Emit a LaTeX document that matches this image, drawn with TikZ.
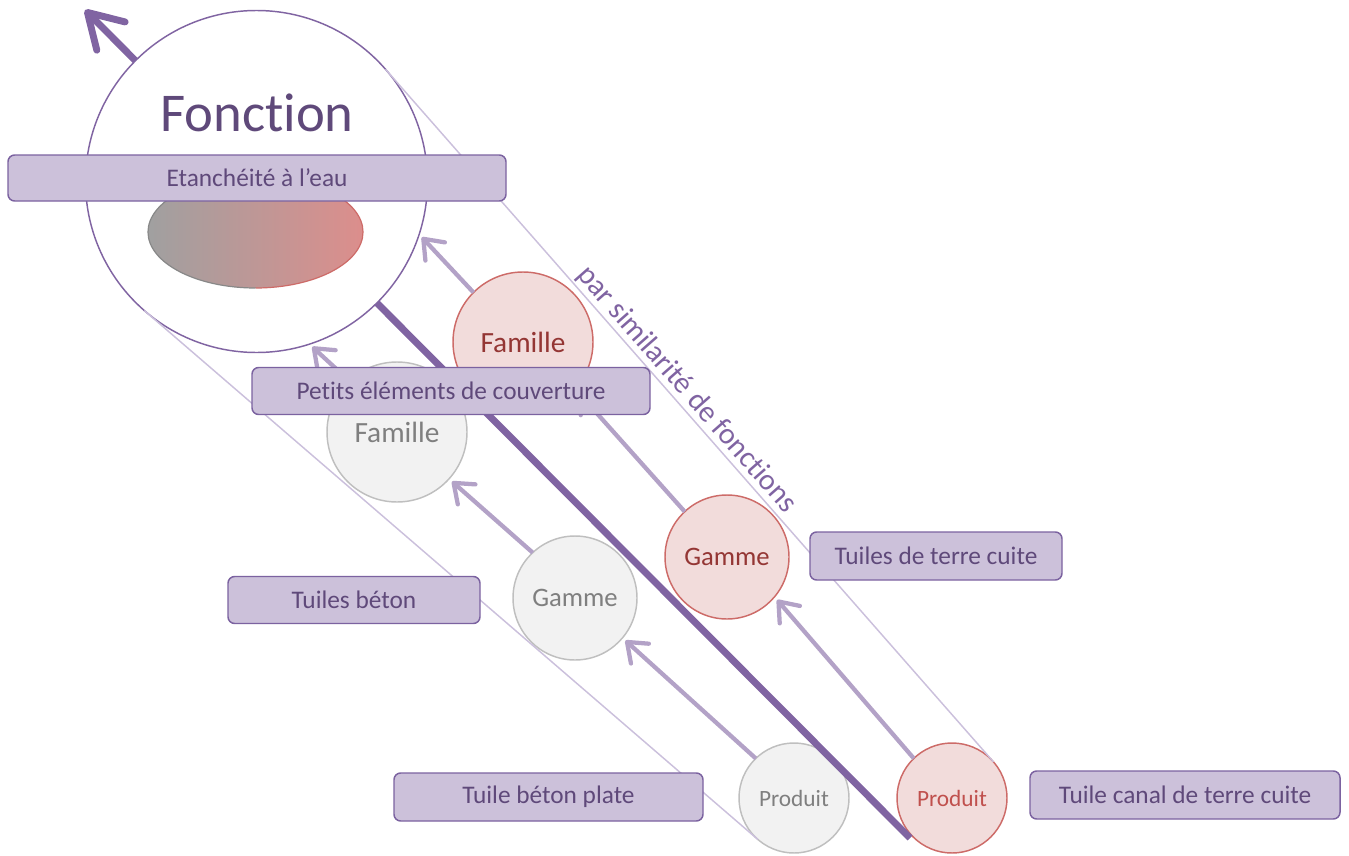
\documentclass[tikz,border=0pt]{standalone}
\usepackage{fontspec}
\setmainfont{Carlito}[Ligatures={NoCommon,NoContextual}]
\usetikzlibrary{arrows.meta}
\definecolor{purpletext}{HTML}{5F497A}
\definecolor{boxfill}{HTML}{CCC1DA}
\definecolor{boxline}{HTML}{7B62A0}
\definecolor{maincol}{HTML}{8064A2}
\definecolor{arrowcol}{HTML}{B3A2C7}
\definecolor{tangcol}{HTML}{CBC0DC}
\definecolor{redfill}{HTML}{F2DCDB}
\definecolor{redline}{HTML}{CD6B68}
\definecolor{redtext}{HTML}{943634}
\definecolor{redtextb}{HTML}{C0504D}
\definecolor{grayfill}{HTML}{F2F2F2}
\definecolor{grayline}{HTML}{BFBFBF}
\definecolor{graytext}{HTML}{7F7F7F}
\definecolor{ellgray}{HTML}{A0A0A0}
\definecolor{ellred}{HTML}{DC8E8C}
\begin{document}
\begin{tikzpicture}[x=0.75pt,y=-0.75pt,
  redc/.style={circle, draw=redline, fill=redfill, line width=1.1pt, inner sep=0pt, outer sep=0pt},
  grayc/.style={circle, draw=grayline, fill=grayfill, line width=1.1pt, inner sep=0pt, outer sep=0pt},
  famsize/.style={minimum size=105pt, font=\fontsize{22}{26}\selectfont},
  gamsize/.style={minimum size=93pt, font=\fontsize{20}{24}\selectfont},
  prodsize/.style={minimum size=82.5pt, font=\fontsize{17.5}{21}\selectfont},
  labelbox/.style={draw=boxline, fill=boxfill, rounded corners=5pt, line width=1.1pt, text=purpletext, font=\fontsize{19}{23}\selectfont, inner sep=0pt},
  link/.style={draw=arrowcol, line width=3.2pt, -{Straight Barb[length=13pt,width=20pt,round]}, shorten >=3pt},
  tangent/.style={draw=tangcol, line width=1.1pt},
  mainarrow/.style={draw=maincol, line width=5.2pt, -{Straight Barb[length=25pt,width=30pt,round]}},
]
\useasboundingbox (0,0) rectangle (1349,856);

% small circles
\node[grayc, famsize, text=graytext] (gF) at (397,432) {Famille};
\node[grayc, gamsize, text=graytext] (gG) at (575,598) {Gamme};
\node[grayc, prodsize, text=graytext] (gP) at (794,798) {Produit};
\node[redc, famsize, text=redtext] (rF) at (523,342) {Famille};
\node[redc, gamsize, text=redtext] (rG) at (727,557) {Gamme};
\node[redc, prodsize, text=redtextb] (rP) at (952,798) {Produit};

% main axis
\coordinate (thickEnd) at (910,838);
\coordinate (thickTip) at (85,10);
\draw[mainarrow] (thickEnd) -- (thickTip);

% big circle
\node[circle, draw=maincol, fill=white, line width=1.1pt, minimum size=256.5pt, inner sep=0pt, outer sep=0pt] (big) at (256.5,181.5) {};

% tangent lines
\draw[tangent] (big.41) -- (rP.41)
  node[pos=0.477, sloped, above, inner sep=1pt, text=maincol, font=\fontsize{22.5}{26}\selectfont] (simil) {par similarité de fonctions};
\draw[tangent] (big.229) -- (gP.229);

% light arrows
\draw[link] (rP.134) -- (rG.-40);
\draw[link] (rG.133) -- (rF.-42);
\draw[link] (rF.135) -- (big.-18);
\draw[link] (gP.134) -- (gG.-40);
\draw[link] (gG.133) -- (gF.-42);
\draw[link] (gF.133) -- (big.-72);

% content of big circle
\node[text=purpletext, font=\fontsize{41}{48}\selectfont, inner sep=0pt] (fonction) at (257,113) {Fonction};
\shade[left color=ellgray, right color=ellred] (255.5,232) ellipse [x radius=107.5, y radius=56];
\draw[draw=redline, line width=0.9pt] (255.5,176) arc[start angle=270, end angle=450, x radius=107.5, y radius=56];
\draw[draw=ellgray!85!black, line width=0.9pt] (255.5,288) arc[start angle=90, end angle=270, x radius=107.5, y radius=56];

% label boxes
\node[labelbox, minimum width=373.5pt, minimum height=34.5pt] (etan) at (257,178) {Etanchéité à l’eau};
\node[labelbox, minimum width=298.5pt, minimum height=35.25pt] (petits) at (451,391) {Petits éléments de couverture};
\node[labelbox, minimum width=189pt, minimum height=36pt] (tterre) at (936,556) {Tuiles de terre cuite};
\node[labelbox, minimum width=189pt, minimum height=35.25pt] (tbeton) at (354,600) {Tuiles béton};
\node[labelbox, minimum width=231.75pt, minimum height=36pt] (tplate) at (548.5,797) {Tuile béton plate};
\node[labelbox, minimum width=232.5pt, minimum height=36pt] (tcanal) at (1185,795) {Tuile canal de terre cuite};
\end{tikzpicture}
\end{document}
